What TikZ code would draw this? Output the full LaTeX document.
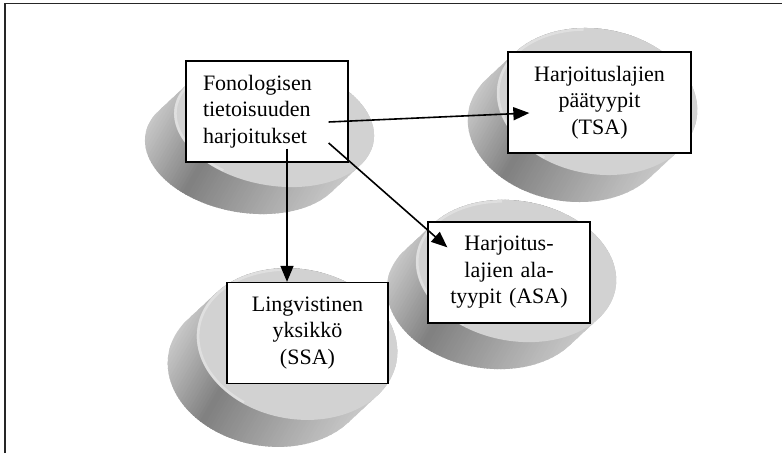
\documentclass[tikz,border=0pt]{standalone}
\usepackage{fontspec}
\setmainfont{Liberation Serif}
\usetikzlibrary{arrows.meta,calc}

\definecolor{disktop}{HTML}{D2D2D2}
\definecolor{sidelight}{HTML}{CACACA}
\definecolor{sidedark}{HTML}{808080}

\tikzset{
  % tilted disk; the argument is the y radius of its top face
  pics/disk/.style={code={
    \pgfmathsetmacro\ry{#1}
    % parameter angles where the sides touch the top and bottom ellipses
    \pgfmathsetmacro\ta{atan2(\ry*23.87, -101*31.62)}
    \pgfmathsetmacro\tb{\ta+180}
    \begin{scope}[rotate=-10]
      \begin{scope}
        % silhouette of the extruded ellipse (top ellipse swept down-left)
        \clip
          (\tb:101pt and \ry pt)
          arc[start angle=\tb-360, end angle=\ta, x radius=101pt, y radius=\ry pt]
          -- ++(-23.87pt,-31.62pt)
          arc[start angle=\ta, end angle=\tb, x radius=101pt, y radius=\ry pt]
          -- cycle;
        % side shading in strips across a down-right axis:
        % light at the upper left, darkest at the lower front, light at the right
        \begin{scope}[rotate=-20]
          \foreach \s in {-150,-147,...,150}{
            \pgfmathsetmacro\m{\s<-44 ? max(0,min(100,(\s+112)/68*100))
                                      : max(0,min(100,(92-\s)/136*100))}
            \fill[sidedark!\m!sidelight] (\s-0.6,-200) rectangle (\s+3.6,200);
          }
        \end{scope}
      \end{scope}
      % flat top face with a soft highlight on its left rim
      \fill[disktop] (0,0) ellipse[x radius=101pt, y radius=\ry pt];
      \draw[white, opacity=0.3, line width=2.5pt]
        (105:99.5pt and \ry pt-1.5pt)
        arc[start angle=105, end angle=245, x radius=99.5pt, y radius=\ry pt-1.5pt];
    \end{scope}
  }},
  labelbox/.style={draw=black, line width=1.3pt, fill=white, minimum height=101pt,
    inner ysep=0pt, font=\fontsize{22}{26.5}\selectfont},
  conn/.style={draw=black, line width=1.6pt, -{Triangle[length=16pt,width=13pt]}},
  frame/.style={draw=black!85, line width=1.6pt}
}

\begin{document}
\begin{tikzpicture}[x=1pt,y=1pt]
  \useasboundingbox (0,0) rectangle (782,453);
  \fill[white] (0,0) rectangle (782,453);

  % outer frame (only its top and left edges fall inside the page)
  \draw[frame] (5,0) |- (782,449.5);

  % disks
  \pic at (597,351.5) {disk=72.5};
  \pic at (274,328.5) {disk=61};
  \pic at (516,182) {disk=70};
  \pic at (297,109) {disk=75};

  % text boxes
  \node[labelbox, text width=128pt, inner xsep=17pt, align=left] (fono) at (267,341.5)
    {Fonologisen\\tietoisuuden\\harjoitukset};
  \node[labelbox, text width=183pt, inner xsep=0pt, align=center] (tsa) at (599.5,350.5)
    {Harjoituslajien\\päätyypit\\(TSA)};
  \node[labelbox, text width=162pt, inner xsep=0pt, align=center] (asa) at (509,180.5)
    {Harjoitus-\\lajien ala-\\tyypit (ASA)};
  \node[labelbox, text width=161pt, inner xsep=0pt, align=center] (ssa) at (307.5,120)
    {Lingvistinen\\yksikkö\\(SSA)};

  % connector end points
  \coordinate (s-tsa) at ($(fono.east)+(-20,-10.5)$);
  \coordinate (s-asa) at ($(fono.east)+(-20,-31.5)$);
  \coordinate (s-ssa) at ($(fono.south)+(20,14)$);
  \coordinate (e-tsa) at ($(tsa.west)+(22,-10.5)$);
  \coordinate (e-asa) at ($(asa.north west)+(20,-26)$);
  \coordinate (e-ssa) at ($(ssa.north)+(-20.5,0)$);

  % connectors
  \draw[conn] (s-tsa) -- (e-tsa);
  \draw[conn] (s-asa) -- (e-asa);
  \draw[conn] (s-ssa) -- (e-ssa);
\end{tikzpicture}
\end{document}
